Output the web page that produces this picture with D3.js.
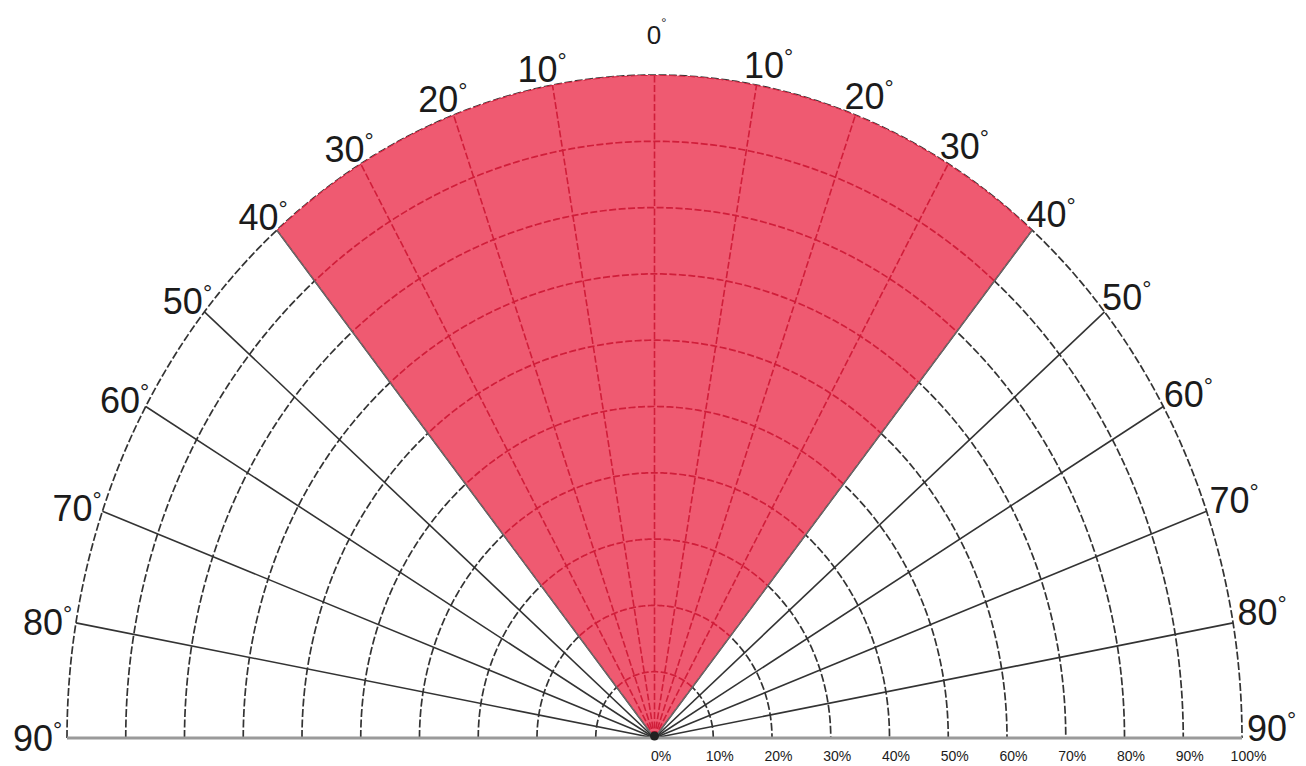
<!DOCTYPE html>
<html>
<head>
<meta charset="utf-8">
<script src="https://cdn.jsdelivr.net/npm/d3@7"></script>
<style>
  html, body { margin: 0; padding: 0; background: #fff; }
  svg { display: block; }
  text { font-family: "Liberation Sans", Arial, sans-serif; fill: #1b1b1b; }
</style>
</head>
<body>
<svg id="chart" width="1306" height="766"></svg>
<script>
// ---- data ----
const spokeAngles = [-90, -80, -70, -60, -50, -40, -30, -20, -10, 0, 10, 20, 30, 40, 50, 60, 70, 80, 90];
const angleLabels = ["90", "80", "70", "60", "50", "40", "30", "20", "10", "0", "10", "20", "30", "40", "50", "60", "70", "80", "90"];
const ringValues = [10, 20, 30, 40, 50, 60, 70, 80, 90, 100];
const percentTicks = [0, 10, 20, 30, 40, 50, 60, 70, 80, 90, 100];
const percentLabels = ["0%", "10%", "20%", "30%", "40%", "50%", "60%", "70%", "80%", "90%", "100%"];
const sectorFrom = -40;
const sectorTo = 40;
const sectorValue = 100;

// ---- layout ----
const svg = d3.select("#chart");
const cx = 654.5, cy = 738;
const rX = d3.scaleLinear().domain([0, 100]).range([0, 587.5]);
const rY = d3.scaleLinear().domain([0, 100]).range([0, 663]);
const ang = d3.scaleLinear().domain([-90, 90]).range([-Math.PI / 2, Math.PI / 2]);
const pt = (deg, v) => [cx + rX(v) * Math.sin(ang(deg)), cy - rY(v) * Math.cos(ang(deg))];
const line = d3.line();

const RED = "#ef5a71";
const RED_LINE = "#d01e3a";
const GRID = "#333333";

function ringPath(v, a0, a1) {
  return line(d3.range(a0, a1 + 0.001, 0.5).map(a => pt(a, v)));
}
const sectorPts = [[cx, cy]].concat(d3.range(sectorFrom, sectorTo + 0.001, 0.5).map(a => pt(a, sectorValue))).concat([[cx, cy]]);

function drawGrid(g, color, dashRing, dashSpoke) {
  g.selectAll("path.ring").data(ringValues).join("path")
    .attr("class", "ring")
    .attr("d", v => ringPath(v, -90, 90))
    .attr("fill", "none").attr("stroke", color).attr("stroke-width", 1.7)
    .attr("stroke-dasharray", dashRing);
  g.selectAll("line.spoke").data(spokeAngles).join("line")
    .attr("class", "spoke")
    .attr("x1", cx).attr("y1", cy)
    .attr("x2", d => pt(d, 100)[0]).attr("y2", d => pt(d, 100)[1])
    .attr("stroke", color).attr("stroke-width", 1.6)
    .attr("stroke-dasharray", dashSpoke);
}

// grid (outside)
drawGrid(svg.append("g"), GRID, "8,2.5", null);

// red sector
svg.append("path").attr("d", line(sectorPts)).attr("fill", RED);

// clip for grid inside red
svg.append("clipPath").attr("id", "sectorClip").append("path").attr("d", line(sectorPts));
drawGrid(svg.append("g").attr("clip-path", "url(#sectorClip)"), RED_LINE, "7,2.5", "7,2.5");

// edge spokes of the sector in gray
svg.append("g").selectAll("line").data([sectorFrom, sectorTo]).join("line")
  .attr("x1", cx).attr("y1", cy)
  .attr("x2", d => pt(d, 100)[0]).attr("y2", d => pt(d, 100)[1])
  .attr("stroke", "#6a6a6a").attr("stroke-width", 1.3);

// baseline
svg.append("line")
  .attr("x1", pt(-90, 100)[0]).attr("y1", cy)
  .attr("x2", pt(90, 100)[0]).attr("y2", cy)
  .attr("stroke", "#9a9a9a").attr("stroke-width", 3);

// center dot
svg.append("circle").attr("cx", cx).attr("cy", cy - 2).attr("r", 4.5).attr("fill", "#222");

// percent axis
const xPct = d3.scaleLinear().domain([0, 100]).range([cx + 6, cx + 6 + rX(100)]);
const axis = svg.append("g").attr("transform", `translate(0,${cy + 9})`)
  .call(d3.axisBottom(xPct).tickValues(percentTicks).tickSize(0).tickPadding(4)
    .tickFormat((d, i) => percentLabels[i]));
axis.select(".domain").remove();
axis.selectAll("text").attr("font-size", 14).attr("fill", "#333")
  .attr("font-family", "\"Liberation Sans\", Arial, sans-serif");

// angle labels
const lg = svg.append("g");
spokeAngles.forEach((a, i) => {
  const [px, py] = pt(a, 100);
  const t = lg.append("text");
  if (a === 0) {
    t.attr("x", cx + 2).attr("y", 44).attr("text-anchor", "middle").attr("font-size", 26);
    t.append("tspan").text(angleLabels[i]);
    t.append("tspan").text("°").attr("font-size", 13).attr("dy", -17);
    return;
  }
  t.attr("font-size", 36);
  const digits = t.append("tspan").text(angleLabels[i]);
  t.append("tspan").text("°").attr("font-size", 23).attr("dy", -13);
  const w = digits.node().getComputedTextLength();
  const s = Math.sin(Math.abs(ang(a)));
  let x, y;
  if (a < 0) {
    const h = 5 - 19 * Math.pow(s, 4);
    const b = 16 * Math.pow(s, 4) - 3;
    x = px + h - w;
    y = py + b;
  } else {
    const h = -13 + 18 * s * s;
    const b = -7 + 9.5 * s * s;
    x = px + h;
    y = py + b;
  }
  t.attr("x", x).attr("y", y);
});
</script>
</body>
</html>
